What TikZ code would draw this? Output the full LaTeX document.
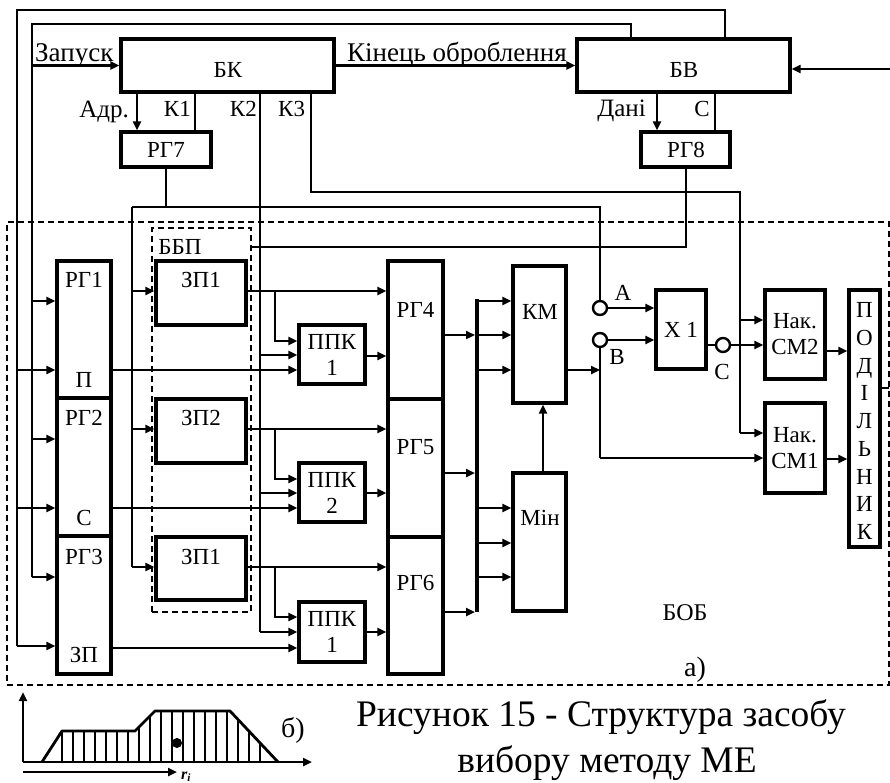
\documentclass[tikz,border=0pt]{standalone}
\usepackage{fontspec}
\setmainfont{Liberation Serif}
\usetikzlibrary{arrows.meta,calc}
\begin{document}
\begin{tikzpicture}[x=1pt,y=-1pt,
  box/.style={draw, line width=3.4pt, inner sep=0pt},
  dbox/.style={draw, line width=1.7pt, dash pattern=on 6pt off 4pt, inner sep=0pt},
  circ/.style={circle, draw, line width=2.4pt, minimum size=14pt, inner sep=0pt, fill=white},
  lbl/.style={inner sep=0pt, font=\fontsize{23}{26}\selectfont},
  big/.style={inner sep=0pt, font=\fontsize{27}{30}\selectfont},
  thin/.style={line width=2pt},
  thk/.style={line width=2.9pt},
  arr/.style={thk, -{Triangle[length=9pt,width=8pt]}},
  bus/.style={line width=4.4pt}]
\useasboundingbox (0,0) rectangle (890,783);

% dashed frames
\node[dbox, minimum width=882pt, minimum height=463pt] (bob) at (448,453.5) {};
\node[dbox, minimum width=99pt, minimum height=384pt] (bbp) at (201.5,420) {};

% boxes
\node[box, minimum width=213pt, minimum height=53pt] (bk) at (227.5,65.5) {};
\node[box, minimum width=213pt, minimum height=53pt] (bv) at (683.5,65.5) {};
\node[box, minimum width=90pt, minimum height=35pt] (rg7) at (166,149.5) {};
\node[box, minimum width=89pt, minimum height=35pt] (rg8) at (685.5,149.5) {};
\node[box, minimum width=54pt, minimum height=137pt] (rg1) at (84,329.5) {};
\node[box, minimum width=54pt, minimum height=138pt] (rg2) at (84,467) {};
\node[box, minimum width=54pt, minimum height=138pt] (rg3) at (84,605) {};
\node[box, minimum width=90pt, minimum height=64pt] (zp1) at (201,293) {};
\node[box, minimum width=90pt, minimum height=64pt] (zp2) at (201,431) {};
\node[box, minimum width=90pt, minimum height=63pt] (zp3) at (201,568.5) {};
\node[box, minimum width=66pt, minimum height=59pt, align=center, font=\fontsize{23}{26}\selectfont] (ppk1) at (332,354.5) {ППК\\1};
\node[box, minimum width=66pt, minimum height=59pt, align=center, font=\fontsize{23}{26}\selectfont] (ppk2) at (332,492.5) {ППК\\2};
\node[box, minimum width=66pt, minimum height=60pt, align=center, font=\fontsize{23}{26}\selectfont] (ppk3) at (332,632) {ППК\\1};
\node[box, minimum width=55pt, minimum height=138pt] (rg4) at (415.5,330) {};
\node[box, minimum width=55pt, minimum height=138pt] (rg5) at (415.5,468) {};
\node[box, minimum width=55pt, minimum height=137pt] (rg6) at (415.5,605.5) {};
\node[box, minimum width=53pt, minimum height=137pt] (km) at (539.5,334.5) {};
\node[box, minimum width=53pt, minimum height=138pt] (min) at (539.5,542) {};
\node[box, minimum width=50pt, minimum height=79pt] (x1) at (681,329.5) {};
\node[box, minimum width=60pt, minimum height=89pt, align=center, font=\fontsize{23}{26}\selectfont] (sm2) at (795,334.5) {Нак.\\СМ2};
\node[box, minimum width=60pt, minimum height=90pt, align=center, font=\fontsize{23}{26}\selectfont] (sm1) at (795,448) {Нак.\\СМ1};
\node[box, minimum width=31pt, minimum height=257pt] (pod) at (864.5,418.5) {};

% circles
\node[circ] (ca) at (600,308) {};
\node[circ] (cb) at (600,340) {};
\node[circ] (cc) at (723,345) {};

% frame line A (x=17)
\coordinate (fa2) at (725,10);
\coordinate (fa) at (17,10);
\draw[thin] (bv.north -| fa2) -- (fa2) -- (fa) -- (fa |- 0,646);
\draw[arr] (fa |- 0,370) -- (rg1.west |- 0,370);
\draw[arr] (fa |- 0,508) -- (rg2.west |- 0,508);
\draw[arr] (fa |- 0,646) -- (rg3.west |- 0,646);

% frame line B (x=32)
\coordinate (fb2) at (631,24);
\coordinate (fb) at (32,24);
\draw[thin] (bv.north -| fb2) -- (fb2) -- (fb) -- (fb |- 0,577);
\draw[arr] (fb |- bk.west) -- (bk.west);
\draw[arr] (fb |- 0,301) -- (rg1.west |- 0,301);
\draw[arr] (fb |- 0,439) -- (rg2.west |- 0,439);
\draw[arr] (fb |- 0,577) -- (rg3.west |- 0,577);

% BK -> BV, input to BV
\draw[arr] (bk.east) -- (bv.west);
\coordinate (inp) at (890,69);
\draw[arr] (inp) -- (bv.east |- inp);

% Adr, K1
\draw[arr] (bk.south -| 137,0) -- (rg7.north -| 137,0);
\draw[thin] (bk.south -| 195,0) -- (rg7.north -| 195,0);

% K2
\coordinate (k2) at (260,632);
\draw[thin] (bk.south -| k2) -- (k2);
\draw[arr] (k2) -- (ppk3.west |- k2);
\draw[arr] (k2 |- 0,355) -- (ppk1.west |- 0,355);
\draw[arr] (k2 |- 0,493) -- (ppk2.west |- 0,493);

% K3
\coordinate (k3a) at (311,192);
\coordinate (k3b) at (740,192);
\coordinate (k3c) at (740,433);
\draw[thin] (bk.south -| k3a) -- (k3a) -- (k3b) -- (k3c);
\draw[arr] (k3c) -- (sm1.west |- k3c);
\draw[arr] (k3b |- 0,320) -- (sm2.west |- 0,320);

% Data, C
\draw[arr] (bv.south -| 657,0) -- (rg8.north -| 657,0);
\draw[thin] (bv.south -| 715,0) -- (rg8.north -| 715,0);

% RG7 out
\coordinate (g2) at (132,207);
\coordinate (g3) at (132,567);
\coordinate (g4) at (600,207);
\draw[thin] (rg7.south) -- (rg7.south |- g2);
\draw[thin] (g2) -- (g4) -- (ca.north);
\draw[thin] (g2) -- (g3);
\draw[arr] (g3) -- (zp3.west |- g3);
\draw[arr] (g2 |- 0,291) -- (zp1.west |- 0,291);
\draw[arr] (g2 |- 0,429) -- (zp2.west |- 0,429);

% RG8 out
\coordinate (h1) at (686,247);
\draw[thin] (rg8.south -| h1) -- (h1) -- (bbp.east |- h1);

% ZP outputs
\coordinate (j1) at (275,291);
\coordinate (j2) at (275,429);
\coordinate (j3) at (275,567);
\draw[arr] (zp1.east |- j1) -- (rg4.west |- j1);
\draw[arr] (zp2.east |- j2) -- (rg5.west |- j2);
\draw[arr] (zp3.east |- j3) -- (rg6.west |- j3);
\draw[arr, line width=2.4pt] (j1) |- (ppk1.west |- 0,341);
\draw[arr, line width=2.4pt] (j2) |- (ppk2.west |- 0,479);
\draw[arr, line width=2.4pt] (j3) |- (ppk3.west |- 0,617);

% RG1-3 outputs
\draw[arr] (rg1.east |- 0,370) -- (ppk1.west |- 0,370);
\draw[arr] (rg2.east |- 0,508) -- (ppk2.west |- 0,508);
\draw[arr] (rg3.east |- 0,648) -- (ppk3.west |- 0,648);

% PPK outputs
\draw[arr] (ppk1.east |- 0,356) -- (rg4.west |- 0,356);
\draw[arr] (ppk2.east |- 0,493) -- (rg5.west |- 0,493);
\draw[arr] (ppk3.east |- 0,632) -- (rg6.west |- 0,632);

% bus
\coordinate (bt) at (477,301);
\coordinate (bb) at (477,612);
\draw[bus] (bb) -- ([yshift=2pt]bt);
\draw[arr, shorten >=2pt] (rg4.east |- 0,335) -- (bt |- 0,335);
\draw[arr, shorten >=2pt] (rg5.east |- 0,473) -- (bt |- 0,473);
\draw[arr, shorten >=2pt] (rg6.east |- bb) -- (bb);
\draw[arr] (bt) -- (km.west |- bt);
\draw[arr] (bt |- 0,335) -- (km.west |- 0,335);
\draw[arr] (bt |- 0,370) -- (km.west |- 0,370);
\draw[arr] (bt |- 0,508) -- (min.west |- 0,508);
\draw[arr] (bt |- 0,543) -- (min.west |- 0,543);
\draw[arr] (bt |- 0,577) -- (min.west |- 0,577);
\draw[arr] (min.north -| 543,0) -- (km.south -| 543,0);

% KM out, B line
\coordinate (bl) at (600,458);
\draw[arr] (km.east |- 0,370) -- (bl |- 0,370);
\draw[thk] (cb.south) -- (bl);
\draw[arr] (bl) -- (sm1.west |- bl);
\draw[arr] (ca.east) -- (x1.west |- ca.east);
\draw[arr] (cb.east) -- (x1.west |- cb.east);
\draw[thk] (x1.east |- cc.west) -- (cc.west);
\draw[arr] (cc.east) -- (sm2.west |- cc.east);

% SM -> divider
\draw[arr] (sm2.east |- 0,351) -- (pod.west |- 0,351);
\draw[arr] (sm1.east |- 0,459) -- (pod.west |- 0,459);
\coordinate (po) at (889,388);
\draw[thin] (pod.east |- po) -- (po);

% labels
\node[lbl] (tbk) at (228,70) {БК};
\node[lbl] (tbv) at (684,70) {БВ};
\node[big, anchor=base west] (tzap) at (35,62) {Запуск};
\node[big, anchor=base west] (tkin) at (347,62) {Кінець оброблення};
\node[lbl, anchor=base east, font=\fontsize{25}{28}\selectfont] (tadr) at (129,118) {Адр.};
\node[lbl, anchor=base east] (tk1) at (191,117) {К1};
\node[lbl, anchor=base east] (tk2) at (257,117) {К2};
\node[lbl, anchor=base west] (tk3) at (278,117) {К3};
\node[lbl, anchor=base east, font=\fontsize{25}{28}\selectfont] (tdan) at (646,117) {Дані};
\node[lbl, anchor=base east] (tc) at (710,117) {С};
\node[lbl] (trg7) at (166,150) {РГ7};
\node[lbl] (trg8) at (686,150) {РГ8};
\node[lbl] (trg1) at (84,280) {РГ1};
\node[lbl] (tp) at (84,380) {П};
\node[lbl] (trg2) at (84,418) {РГ2};
\node[lbl] (ts) at (84,518) {С};
\node[lbl] (trg3) at (84,557) {РГ3};
\node[lbl] (tzp) at (84,655) {ЗП};
\node[lbl] (tbbp) at (180,247) {ББП};
\node[lbl] (tzp1) at (201,280) {ЗП1};
\node[lbl] (tzp2) at (201,418) {ЗП2};
\node[lbl] (tzp3) at (201,557) {ЗП1};
\node[lbl] (trg4) at (415.5,310) {РГ4};
\node[lbl] (trg5) at (415.5,447) {РГ5};
\node[lbl] (trg6) at (415.5,583) {РГ6};
\node[lbl] (tkm) at (540,312) {КМ};
\node[lbl] (tmin) at (540,518) {Мін};
\node[lbl] (ta) at (623,293) {А};
\node[lbl] (tb) at (617,357) {В};
\node[lbl] (tx1) at (681,330) {Х 1};
\node[lbl] (tcc) at (722,372) {С};
\node[lbl, align=center, font=\fontsize{23}{27.75}\selectfont] (tpod) at (864.5,421) {П\\О\\Д\\І\\Л\\Ь\\Н\\И\\К};
\node[lbl, font=\fontsize{24}{26}\selectfont] (tbob) at (685,613) {БОБ};
\node[lbl, font=\fontsize{28}{30}\selectfont] (tA) at (695,670) {а)};

% graph b)
\coordinate (go) at (23,762);
\coordinate (gy) at (23,692);
\coordinate (gx) at (312,762);
\coordinate (gr1) at (23,772);
\coordinate (gr2) at (177,772);
\begin{scope}
  \clip (42,762) -- (62,731) -- (135,731) -- (155,711) -- (230,711) -- (278,762) -- cycle;
  \foreach \x in {62,73,...,270} \draw[line width=1.1pt] (\x,700) -- (\x,770);
\end{scope}
\draw[line width=2.8pt, line join=round] (42,762) -- (62,731) -- (135,731) -- (155,711) -- (230,711) -- (278,762);
\draw[arr] (go) -- (gy);
\draw[arr] (go) -- (gx);
\draw[arr] (gr1) -- (gr2);
\fill (177,743) circle[radius=5pt];
\node[inner sep=0pt, anchor=base west, font=\fontsize{16}{18}\selectfont\bfseries\itshape] (tri) at (181,779) {r\textsubscript{i}};
\node[lbl, font=\fontsize{28}{30}\selectfont] (tB) at (293,730) {б)};

% caption
\node[inner sep=0pt, font=\fontsize{37.5}{40}\selectfont] (cap1) at (601,717) {Рисунок 15 - Структура засобу};
\node[inner sep=0pt, font=\fontsize{37.5}{40}\selectfont] (cap2) at (607,763) {вибору методу МЕ};
\end{tikzpicture}
\end{document}
